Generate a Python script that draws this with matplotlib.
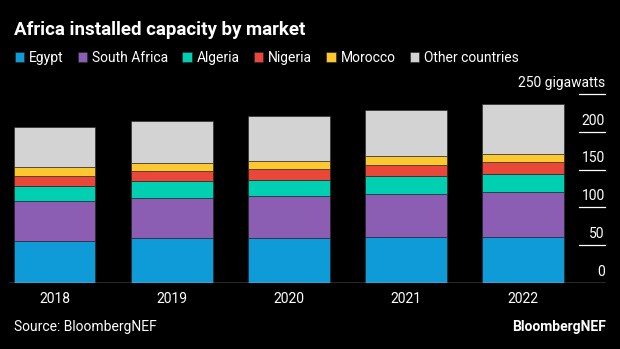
import matplotlib.pyplot as plt
import numpy as np

plt.rcParams["font.family"] = ["Roboto", "DejaVu Sans"]

years = ["2018", "2019", "2020", "2021", "2022"]
markets = ["Egypt", "South Africa", "Algeria", "Nigeria", "Morocco", "Other countries"]
egypt = [55.7, 59.3, 59.7, 60.2, 61.0]
south_africa = [52.3, 53.4, 55.3, 57.8, 58.9]
algeria = [20.2, 21.6, 21.9, 23.9, 24.7]
nigeria = [13.7, 13.6, 13.8, 14.2, 15.1]
morocco = [11.1, 11.5, 11.0, 11.9, 11.0]
other = [53.0, 54.9, 59.6, 61.0, 66.7]
yticks = [0, 50, 100, 150, 200, 250]

colors = ["#0f9bd7", "#8b5db3", "#00cfb2", "#e8473a", "#fdc82f", "#d3d3d3"]
series = [egypt, south_africa, algeria, nigeria, morocco, other]

fig = plt.figure(figsize=(6.2, 3.49), dpi=100, facecolor="black")
ax = fig.add_axes([10 / 620, 1 - 282.7 / 349, 596 / 620, (282.7 - 94.3) / 349])
ax.set_facecolor("black")

x = np.arange(len(years))
bottom = np.zeros(len(years))
handles = []
for vals, c, name in zip(series, colors, markets):
    b = ax.bar(x, vals, 0.70, bottom=bottom, color=c, label=name,
               edgecolor="#222222", linewidth=0.4)
    handles.append(b)
    bottom += np.array(vals)

ax.set_xlim(-0.38, 4.71)
ax.set_ylim(0, 250)
for s in ax.spines.values():
    s.set_visible(False)
ax.axhline(0, color="#cccccc", lw=1.0)
ax.set_yticks([])
ax.set_xticks(x)
ax.set_xticklabels(years, color="white", fontsize=10)
ax.tick_params(axis="x", length=0, pad=7)

# short gridlines and labels at the right
for v in yticks:
    if v > 0:
        ax.plot([0.955, 0.998], [v, v], transform=ax.get_yaxis_transform(),
                color="white", lw=0.9, clip_on=False)
    lab = "250 gigawatts" if v == 250 else str(v)
    ax.annotate(lab, xy=(0.998, v), xycoords=("axes fraction", "data"),
                xytext=(0, 3), textcoords="offset points", ha="right",
                va="bottom", color="white", fontsize=10)

fig.text(14 / 620, 1 - 30 / 349, "Africa installed capacity by market",
         color="white", fontsize=13.5, fontweight="bold", va="center")
fig.legend(handles=handles, labels=markets, ncol=6, loc="center left",
           bbox_to_anchor=(2 / 620, 1 - 58 / 349), frameon=False,
           handlelength=0.7, handleheight=0.7, handletextpad=0.35,
           columnspacing=1.0, labelcolor="white", fontsize=10)
fig.text(14 / 620, 1 - 327 / 349, "Source: BloombergNEF", color="white",
         fontsize=10, va="center")
fig.text(606 / 620, 1 - 327 / 349, "BloombergNEF", color="white",
         fontsize=10, fontweight="bold", va="center", ha="right")

fig.savefig("out.png", dpi=100, facecolor="black")
